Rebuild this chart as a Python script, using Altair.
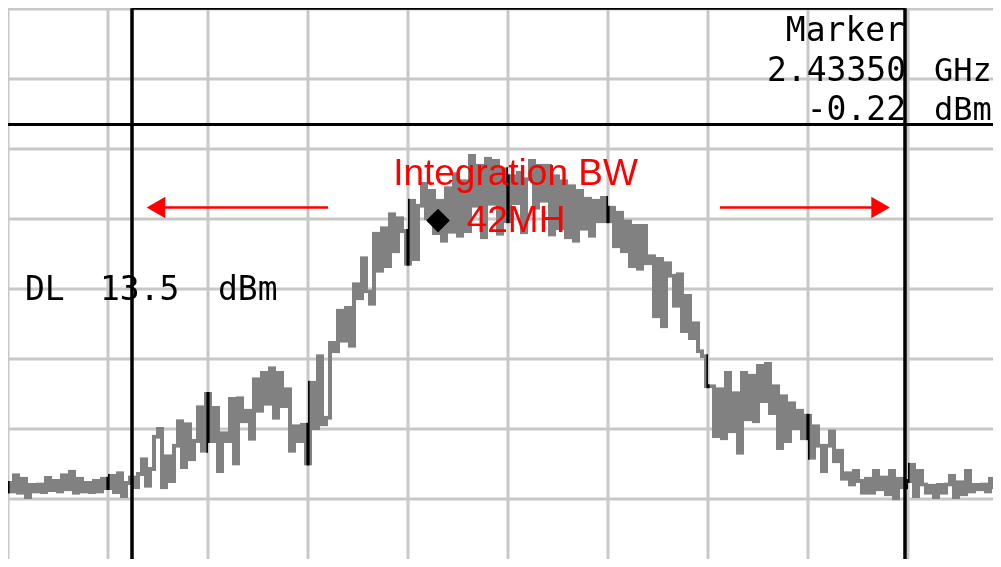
import altair as alt
import numpy as np
import pandas as pd

F_START = 2412.0      # MHz, first displayed trace bin
F_STEP = 0.2          # MHz between trace bins

noise_left = [-37.7, -38.9, -36.6, -39.1, -37.1, -39.7, -38.0, -38.9, -37.9, -39.0,
              -37.0, -38.7, -37.4, -38.9, -36.6, -38.6, -36.1, -39.1, -37.1, -38.9,
              -37.7, -39.0, -37.4, -38.9, -37.1, -38.4, -36.7, -39.0, -36.3, -39.6, -37.7]
skirt_left = [-36.9, -38.3, -36.4, -34.3, -38.1, -35.7, -31.1, -30.0, -38.3, -33.9,
              -37.4, -32.4, -28.9, -35.4, -29.3, -34.3, -31.7, -26.9, -33.1, -25.0,
              -31.7, -27.0, -36.0, -30.6, -31.7, -25.7, -34.9, -25.6, -28.9, -27.4,
              -31.4, -22.9, -27.4, -22.0, -26.4, -21.3, -28.4, -22.0, -26.7, -24.3,
              -33.1, -29.6, -31.7, -29.4, -34.9, -23.4, -29.9, -19.6, -29.3, -28.4]
rise = [-17.7, -18.9, -13.1, -17.4, -12.7, -18.1, -9.3, -11.3, -5.6, -10.3,
        -12.1, -2.1, -7.4, -1.3, -6.7, 0.7, -4.6, 0.1, -1.7, -6.4,
        2.6, -5.7, 1.9, 5.0, 0.1]
top = [4.0, -2.0, 2.6, -3.1, 4.4, -1.8, 6.4, -2.4, 5.4, -1.7,
       9.0, 1.9, 7.6, -2.6, 8.6, 2.2, 8.3, -2.1, 7.1, -0.3,
       6.1, 2.3, 6.6, -1.9, 5.7, 8.3, 1.6, 7.6, 2.6, 7.6,
       -2.2, 6.1, -1.3, 5.4, -2.6, 4.7, -3.1, 4.0, -1.4, 2.9,
       -2.4, 2.6, -0.3]
fall = [3.0, -0.3, 1.6, -3.9, 0.9, -4.6, -0.3, -6.7, -1.0, -7.1,
        -1.0, -6.3, -5.3, -13.9, -5.7, -15.3, -6.3, -8.1, -12.4, -7.9,
        -16.0, -11.0, -17.0, -14.9, -18.9, -19.6, -23.9, -23.9]
shoulder_right = [-31.0, -24.3, -31.3, -22.0, -30.3, -24.9, -33.4, -22.0, -28.6, -22.4,
                  -28.9, -21.0, -26.0, -20.7, -27.7, -23.9, -32.7, -25.3, -31.7, -26.3,
                  -29.9, -27.4, -31.3, -28.1, -34.1, -29.6, -32.4, -36.0, -32.4, -30.3,
                  -34.6, -33.1, -37.1, -36.3, -37.9, -36.0, -37.4, -39.1, -37.1, -39.1,
                  -36.0, -38.6]
noise_right = [-36.9, -39.3, -36.0, -39.9, -37.1, -38.3, -37.4, -35.1, -39.6, -36.0,
               -37.9, -39.1, -38.1, -39.7, -38.0, -39.1, -37.9, -36.7, -39.7, -37.6,
               -39.3, -36.0, -38.9, -38.0, -38.6, -37.9, -38.9, -37.1, -38.3, -37.4]

trace_dbm = noise_left + skirt_left + rise + top + fall + shoulder_right + noise_right

grid_freqs = [2412, 2417, 2422, 2427, 2432, 2437, 2442, 2447, 2452, 2457]
grid_levels = [30, 20, 10, 0, -10, -20, -30, -40]

marker_freq = 2433.50
marker_level = -0.22
display_line = 13.5
bw_left, bw_right = 2418.2, 2456.85
bw_top, bw_bottom = 30.1, -49.4

W, H = 985, 551
X_MIN, X_MAX = 2412.0, 2461.25
Y_MIN, Y_MAX = -48.56, 30.15

# ---------------- tables ----------------
trace_df = pd.DataFrame({"freq": F_START + F_STEP * np.arange(len(trace_dbm)),
                         "level": trace_dbm})
gx_df = pd.DataFrame({"freq": grid_freqs})
gy_df = pd.DataFrame({"level": grid_levels})
box_df = pd.DataFrame({"freq": [bw_left, bw_right],
                       "top": [bw_top, bw_top], "bottom": [bw_bottom, bw_bottom]})
box_h_df = pd.DataFrame({"x1": [bw_left], "x2": [bw_right], "level": [bw_top]})
dl_df = pd.DataFrame({"level": [display_line]})
marker_df = pd.DataFrame({"freq": [marker_freq], "level": [marker_level]})
arrow_df = pd.DataFrame({"start": [2428.0, 2447.6], "end": [2419.6, 2455.6],
                         "head": [2419.4, 2455.63], "level": [1.65, 1.65],
                         "shape": ["triangle-left", "triangle-right"]})
text_right_df = pd.DataFrame({"text": ["Marker", "2.43350", "-0.22"],
                              "freq": [2456.85, 2456.9, 2456.9],
                              "level": [25.5, 19.7, 14.15]})
text_left_df = pd.DataFrame({"text": ["DL", "13.5", "dBm"],
                             "freq": [2412.85, 2416.6, 2422.5],
                             "level": [-11.56, -11.56, -11.56]})
units_df = pd.DataFrame({"text": ["GHz", "dBm"],
                         "freq": [2458.3, 2458.3], "level": [19.7, 14.15]})
red_df = pd.DataFrame({"text": ["Integration BW", "42MH"],
                       "freq": [2437.375, 2437.4], "level": [4.86, -1.85]})

xs = alt.Scale(domain=[X_MIN, X_MAX], nice=False, zero=False)
ys = alt.Scale(domain=[Y_MIN, Y_MAX], nice=False, zero=False)
X = lambda f: alt.X(f, type="quantitative", scale=xs, axis=None)
Y = lambda f: alt.Y(f, type="quantitative", scale=ys, axis=None)

GRID = "#c8c8c8"
grid_x = alt.Chart(gx_df).mark_rule(color=GRID, strokeWidth=3).encode(x=X("freq"))
# horizontal grid drawn after the trace with "darken" so it never lightens the trace
grid_y = alt.Chart(gy_df).mark_rule(color=GRID, strokeWidth=3, blend="darken").encode(
    y=Y("level"))

# trace drawn twice with blend modes: mid gray on white, black on the vertical grid lines
trace_a = alt.Chart(trace_df).mark_line(
    interpolate="step", color="#d9d9d9", strokeWidth=4, blend="multiply"
).encode(x=X("freq"), y=Y("level"))
trace_b = alt.Chart(trace_df).mark_line(
    interpolate="step", color="#4d4d4d", strokeWidth=4, blend="color-burn"
).encode(x=X("freq"), y=Y("level"))

box_v = alt.Chart(box_df).mark_rule(color="black", strokeWidth=3.5).encode(
    x=X("freq"), y=Y("bottom"), y2="top")
box_h = alt.Chart(box_h_df).mark_rule(color="black", strokeWidth=3).encode(
    x=X("x1"), x2="x2", y=Y("level"))
dl = alt.Chart(dl_df).mark_rule(color="black", strokeWidth=3).encode(y=Y("level"))
marker = alt.Chart(marker_df).mark_point(shape="diamond", filled=True, color="black",
                                         size=560, opacity=1).encode(x=X("freq"), y=Y("level"))

mono = "DejaVu Sans Mono"
txt_r = alt.Chart(text_right_df).mark_text(font=mono, fontSize=33, align="right",
                                           baseline="alphabetic", color="black").encode(
    x=X("freq"), y=Y("level"), text="text:N")
txt_l = alt.Chart(text_left_df).mark_text(font=mono, fontSize=33, align="left",
                                          baseline="alphabetic", color="black").encode(
    x=X("freq"), y=Y("level"), text="text:N")
txt_u = alt.Chart(units_df).mark_text(font=mono, fontSize=32, align="left",
                                      baseline="alphabetic", color="black").encode(
    x=X("freq"), y=Y("level"), text="text:N")

arrow_line = alt.Chart(arrow_df).mark_rule(color="#ff0000", strokeWidth=2.5).encode(
    x=X("start"), x2="end", y=Y("level"))
arrow_head = alt.Chart(arrow_df).mark_point(filled=True, color="#ff0000", size=460,
                                            opacity=1).encode(
    x=X("head"), y=Y("level"), shape=alt.Shape("shape:N", scale=None))
red_txt = alt.Chart(red_df).mark_text(font="Liberation Sans", fontSize=37, align="center",
                                      baseline="alphabetic", color="#ff0000").encode(
    x=X("freq"), y=Y("level"), text="text:N")

chart = alt.layer(
    grid_x, trace_a, trace_b, grid_y, box_v, box_h, dl, marker, txt_r, txt_l, txt_u,
    arrow_line, arrow_head, red_txt
).properties(
    width=W, height=H, autosize=alt.AutoSizeParams(type="none"), padding=0,
    background="white"
).configure_view(strokeWidth=0, fill="white")

chart.save("out.html", embed_options={"renderer": "svg", "actions": False})
